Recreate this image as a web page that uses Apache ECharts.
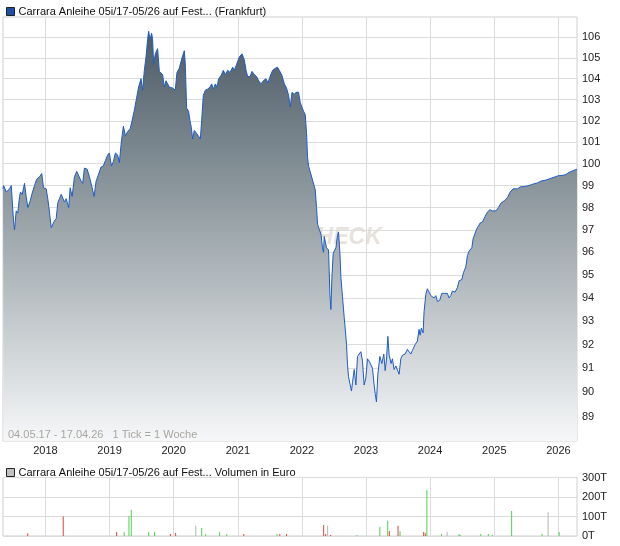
<!DOCTYPE html>
<html>
<head>
<meta charset="utf-8">
<script src="https://cdn.jsdelivr.net/npm/echarts@6/dist/echarts.min.js"></script>
<style>html,body{margin:0;padding:0;background:#fff}#c{width:620px;height:546px}</style>
</head>
<body>
<div id="c"></div>
<script>
// ---- DATA ----
const priceName = 'Carrara Anleihe 05i/17-05/26 auf Fest... (Frankfurt)';
const volumeName = 'Carrara Anleihe 05i/17-05/26 auf Fest... Volumen in Euro';
const rangeText = '04.05.17 - 17.04.26   1 Tick = 1 Woche';
const startDate = '2017-05-04';
const endDate = '2026-04-17';
const yearTicks = [2018, 2019, 2020, 2021, 2022, 2023, 2024, 2025, 2026];
const priceTicks = [89, 90, 91, 92, 93, 94, 95, 96, 97, 98, 99, 100, 101, 102, 103, 104, 105, 106];
const volumeTicks = [0, 100, 200, 300];

// fractional years
const priceYears = [
 2017.337, 2017.346, 2017.388, 2017.439, 2017.466, 2017.481, 2017.501, 2017.517, 2017.543, 2017.568,
 2017.595, 2017.610, 2017.637, 2017.673, 2017.699, 2017.724, 2017.762, 2017.787, 2017.829, 2017.864,
 2017.907, 2017.942, 2017.969, 2018.011, 2018.036, 2018.062, 2018.089, 2018.114, 2018.140, 2018.167,
 2018.192, 2018.218, 2018.245, 2018.270, 2018.296, 2018.323, 2018.363, 2018.385, 2018.416, 2018.452,
 2018.488, 2018.519, 2018.556, 2018.581, 2018.608, 2018.650, 2018.686, 2018.728, 2018.759, 2018.790,
 2018.821, 2018.852, 2018.868, 2018.904, 2018.935, 2018.971, 2018.997, 2019.029, 2019.060, 2019.091,
 2019.127, 2019.153, 2019.180, 2019.216, 2019.247, 2019.283, 2019.320, 2019.351, 2019.387, 2019.423,
 2019.454, 2019.491, 2019.516, 2019.543, 2019.569, 2019.594, 2019.610, 2019.632, 2019.657, 2019.672,
 2019.688, 2019.714, 2019.750, 2019.777, 2019.803, 2019.828, 2019.855, 2019.881, 2019.906, 2019.932,
 2019.984, 2020.026, 2020.052, 2020.088, 2020.130, 2020.166, 2020.182, 2020.202, 2020.233, 2020.255,
 2020.275, 2020.296, 2020.322, 2020.349, 2020.384, 2020.416, 2020.436, 2020.462, 2020.493, 2020.529,
 2020.567, 2020.592, 2020.618, 2020.649, 2020.676, 2020.701, 2020.738, 2020.774, 2020.805, 2020.841,
 2020.878, 2020.919, 2020.945, 2020.981, 2021.023, 2021.065, 2021.101, 2021.128, 2021.153, 2021.190,
 2021.221, 2021.257, 2021.293, 2021.324, 2021.361, 2021.397, 2021.439, 2021.471, 2021.502, 2021.542,
 2021.584, 2021.620, 2021.647, 2021.689, 2021.725, 2021.760, 2021.792, 2021.818, 2021.845, 2021.880,
 2021.907, 2021.947, 2021.974, 2022.000, 2022.025, 2022.052, 2022.072, 2022.088, 2022.103,
 2022.161, 2022.208, 2022.228, 2022.244, 2022.297, 2022.321, 2022.337, 2022.348, 2022.364, 2022.384,
 2022.415, 2022.437, 2022.452, 2022.468, 2022.488, 2022.509, 2022.530, 2022.555, 2022.571, 2022.593,
 2022.608, 2022.633, 2022.660, 2022.675, 2022.696, 2022.711, 2022.727, 2022.748, 2022.773, 2022.789,
 2022.816, 2022.842, 2022.867, 2022.893, 2022.920, 2022.945, 2022.971, 2022.998, 2023.023, 2023.049,
 2023.076, 2023.101, 2023.127, 2023.143, 2023.163, 2023.185, 2023.216, 2023.247, 2023.278, 2023.299,
 2023.319, 2023.341, 2023.361, 2023.392, 2023.412, 2023.439, 2023.465, 2023.490, 2023.517, 2023.543,
 2023.568, 2023.610, 2023.646,
 2023.673, 2023.699, 2023.724, 2023.766, 2023.802, 2023.828, 2023.844, 2023.864, 2023.891, 2023.906,
 2023.933, 2023.958, 2023.984, 2024.011, 2024.036, 2024.062, 2024.089, 2024.114, 2024.151, 2024.182,
 2024.218, 2024.269, 2024.296, 2024.322, 2024.347, 2024.389, 2024.425, 2024.452, 2024.494, 2024.519,
 2024.556, 2024.581, 2024.608, 2024.650, 2024.670, 2024.701, 2024.728, 2024.753, 2024.779, 2024.815,
 2024.857, 2024.893, 2024.930, 2024.971, 2025.024, 2025.064, 2025.102, 2025.153, 2025.205, 2025.247,
 2025.293, 2025.360, 2025.413, 2025.449, 2025.491, 2025.543, 2025.585, 2025.621, 2025.672, 2025.725,
 2025.803, 2025.854, 2025.932, 2026.000, 2026.073, 2026.115, 2026.166, 2026.244, 2026.290
];
const priceValues = [
 98.85, 99.0, 98.7, 98.85, 99.0, 98.3, 97.4, 97.0, 97.85, 97.75,
 98.5, 98.7, 98.6, 99.1, 98.5, 98.0, 98.3, 98.6, 99.0, 99.3,
 99.4, 99.55, 98.9, 98.85, 98.4, 97.8, 97.1, 97.05, 97.4, 97.5,
 98.2, 98.4, 98.6, 98.55, 98.25, 98.4, 98.0, 98.9, 98.5, 99.4,
 99.65, 99.6, 99.2, 99.1, 99.8, 99.75, 99.4, 98.9, 98.5, 99.2,
 99.45, 99.4, 99.85, 99.9, 100.15, 100.4, 100.5, 99.9, 100.1, 100.5,
 100.4, 100.05, 100.9, 101.75, 101.3, 101.5, 101.6, 102.0, 102.5, 103.1,
 103.6, 104.0, 103.45, 104.4, 105.05, 105.9, 106.3, 105.9, 106.2, 105.9,
 104.7, 105.2, 105.45, 104.35, 104.3, 104.2, 103.6, 103.9, 103.9, 103.6,
 103.55, 103.45, 104.3, 104.5, 105.0, 105.35, 104.7, 102.6, 102.45, 102.0,
 101.7, 101.15, 101.55, 101.5, 101.3, 101.15, 102.0, 103.2, 103.45, 103.5,
 103.6, 103.75, 103.5, 103.75, 103.6, 104.0, 104.15, 104.4, 104.2, 104.4,
 104.3, 104.55, 104.4, 104.7, 105.05, 105.2, 104.9, 104.4, 104.1, 104.1,
 104.35, 104.2, 104.1, 103.9, 103.75, 103.9, 104.0, 103.8, 104.1, 104.4,
 104.5, 104.55, 104.4, 104.15, 103.75, 103.55, 103.2, 102.65, 103.35, 103.25,
 103.35, 103.35, 102.85, 102.65, 102.45, 102.3, 101.4, 100.3, 99.9,
 99.3, 98.8, 98.0, 97.25, 96.8, 96.2, 96.0, 96.7, 96.75, 96.2,
 96.1, 94.15, 93.5, 94.9, 95.95, 95.9, 96.2, 96.75, 96.9, 95.95,
 94.9, 94.05, 93.15, 92.7, 92.0, 91.15, 90.65, 90.7, 90.05, 90.4,
 90.95, 90.3, 91.5, 91.45, 91.7, 91.3, 90.3, 90.6, 91.4, 91.3,
 91.35, 91.0, 90.3, 89.95, 89.6, 90.75, 91.5, 91.2, 91.6, 90.9,
 91.35, 92.35, 91.55, 91.2, 91.4, 90.95, 91.1, 91.05, 90.75, 91.4,
 91.55, 91.6, 91.8,
 91.8, 91.6, 91.75, 92.0, 92.15, 92.65, 92.4, 92.7, 92.5, 93.4,
 94.15, 94.4, 94.4, 94.1, 94.15, 94.0, 94.1, 93.85, 93.9, 94.2,
 94.2, 94.2, 94.0, 94.1, 94.3, 94.25, 94.45, 94.75, 94.8, 95.1,
 95.35, 95.85, 96.05, 96.2, 96.6, 96.85, 97.05, 97.0, 97.3, 97.35,
 97.6, 97.8, 97.9, 97.85, 97.85, 98.0, 98.2, 98.3, 98.45, 98.7,
 98.85, 98.85, 98.95, 98.95, 98.97, 99.0, 99.05, 99.08, 99.12, 99.2,
 99.25, 99.3, 99.38, 99.45, 99.47, 99.5, 99.6, 99.7, 99.75
];

// volume (thousand euro), fractional years, direction r=down g=up n=unchanged
const volumeYears = [
 2017.723, 2018.277, 2019.111, 2019.228, 2019.303, 2019.339, 2019.611, 2019.703, 2019.950, 2020.031,
 2020.345, 2020.437, 2020.500, 2020.716, 2020.827, 2021.092, 2021.611, 2021.654, 2021.759, 2022.339,
 2022.370, 2022.401, 2022.449, 2022.858, 2023.216, 2023.339, 2023.364, 2023.500, 2023.531, 2023.900,
 2023.925, 2023.950, 2024.178, 2024.265, 2024.450, 2024.469, 2024.788, 2024.907, 2024.968, 2025.270,
 2025.745, 2025.839, 2026.012
];
const volumeValues = [
 14, 100, 21, 21, 103, 134, 21, 21, 10, 16,
 52, 41, 10, 21, 10, 10, 10, 10, 10, 57,
 10, 52, 5, 5, 48, 78, 26, 52, 26, 21,
 14, 236, 10, 20, 10, 5, 10, 10, 5, 128,
 10, 122, 20
];
const volumeDirection = [
 'r','r','r','g','g','g','g','g','r','r',
 'n','g','g','g','g','r','g','r','r','r',
 'r','n','r','g','g','g','r','r','g','r',
 'r','g','g','n','g','g','g','g','g','g',
 'g','n','g'
];

// ---- HELPERS ----
function yearToTime(y) {
  const yr = Math.floor(y);
  const a = Date.UTC(yr, 0, 1), b = Date.UTC(yr + 1, 0, 1);
  return a + (y - yr) * (b - a);
}
function parseDate(s) { const p = s.split('-').map(Number); return Date.UTC(p[0], p[1] - 1, p[2]); }
const tMin = parseDate(startDate), tMax = parseDate(endDate);
const yearTickTimes = yearTicks.map(y => Date.UTC(y, 0, 1));
const dirColor = { r: '#e2403e', g: '#4fd34f', n: '#b4b4b4' };
const FONT = 'Liberation Sans, Arial, sans-serif';
const gridColor = '#dcdcdc';

const priceData = priceYears.map((y, i) => [yearToTime(y), priceValues[i]]);
const volumeData = volumeYears.map((y, i) => ({
  value: [yearToTime(y), volumeValues[i]],
  itemStyle: { color: dirColor[volumeDirection[i]] }
}));

const chart = echarts.init(document.getElementById('c'), null, { renderer: 'canvas' });
chart.setOption({
  animation: false,
  backgroundColor: '#ffffff',
  textStyle: { fontFamily: FONT },
  grid: [
    { left: 3, right: 43, top: 17, height: 424, show: true, borderColor: '#cfcfcf', borderWidth: 1, backgroundColor: '#fff' },
    { left: 3, right: 43, top: 477.5, height: 58.5, show: true, borderColor: '#cfcfcf', borderWidth: 1 }
  ],
  legend: [
    { left: 1, top: 1, icon: 'rect', itemWidth: 8, itemHeight: 8, selectedMode: false, data: [priceName],
      itemStyle: { borderColor: '#222', borderWidth: 1 },
      textStyle: { fontSize: 11, color: '#111', fontFamily: FONT, padding: [0, 0, 0, -1] } },
    { left: 1, top: 462, icon: 'rect', itemWidth: 8, itemHeight: 8, selectedMode: false, data: [volumeName],
      itemStyle: { borderColor: '#222', borderWidth: 1 },
      textStyle: { fontSize: 11, color: '#111', fontFamily: FONT, padding: [0, 0, 0, -1] } }
  ],
  xAxis: [
    { type: 'value', gridIndex: 0, min: tMin, max: tMax,
      axisLine: { show: false }, axisTick: { show: false, customValues: yearTickTimes },
      axisLabel: { customValues: yearTickTimes, fontSize: 11, color: '#222', margin: 4, fontFamily: FONT,
        formatter: v => String(new Date(v).getUTCFullYear()) },
      splitLine: { show: true, lineStyle: { color: gridColor, width: 1 } } },
    { type: 'value', gridIndex: 1, min: tMin, max: tMax,
      axisLine: { show: false }, axisTick: { show: false, customValues: yearTickTimes },
      axisLabel: { show: false, customValues: yearTickTimes },
      splitLine: { show: true, lineStyle: { color: gridColor, width: 1 } } }
  ],
  yAxis: [
    { type: 'log', gridIndex: 0, position: 'right', min: 88, max: 107, logBase: 10,
      axisLine: { show: false }, axisTick: { show: false, customValues: priceTicks },
      axisLabel: { customValues: priceTicks, fontSize: 11, color: '#222', margin: 5, fontFamily: FONT },
      splitLine: { show: true, lineStyle: { color: gridColor, width: 1 } } },
    { type: 'value', gridIndex: 1, position: 'right', min: 0, max: 300, interval: 100,
      axisLine: { show: false }, axisTick: { show: false },
      axisLabel: { fontSize: 11, color: '#222', margin: 5, fontFamily: FONT, formatter: v => v + 'T' },
      splitLine: { show: true, lineStyle: { color: gridColor, width: 1 } } }
  ],
  graphic: [
    { type: 'text', left: 300, top: 226, z: 0, silent: true,
      style: { text: 'CHECK', font: 'italic bold 23px ' + FONT, fill: 'rgba(222,214,205,0.7)' } },
    { type: 'text', left: 8, top: 429, z: 100, silent: true,
      style: { text: rangeText, font: '11px ' + FONT, fill: '#a9a6a1' } }
  ],
  series: [
    { type: 'line', name: priceName, xAxisIndex: 0, yAxisIndex: 0, data: priceData,
      symbol: 'none', showSymbol: false, z: 3,
      itemStyle: { color: '#1d4fa6' },
      lineStyle: { color: '#1f5cc8', width: 1 },
      areaStyle: { origin: 'start', opacity: 1,
        color: new echarts.graphic.LinearGradient(0, 0, 0, 1, [
          { offset: 0, color: '#4c5a65' },
          { offset: 0.4, color: '#8e999f' },
          { offset: 1, color: '#f6f7f8' }
        ]) } },
    { type: 'bar', name: volumeName, xAxisIndex: 1, yAxisIndex: 1, data: volumeData,
      barWidth: 1, itemStyle: { color: '#c0c0c0' } }
  ]
});
</script>
</body>
</html>
